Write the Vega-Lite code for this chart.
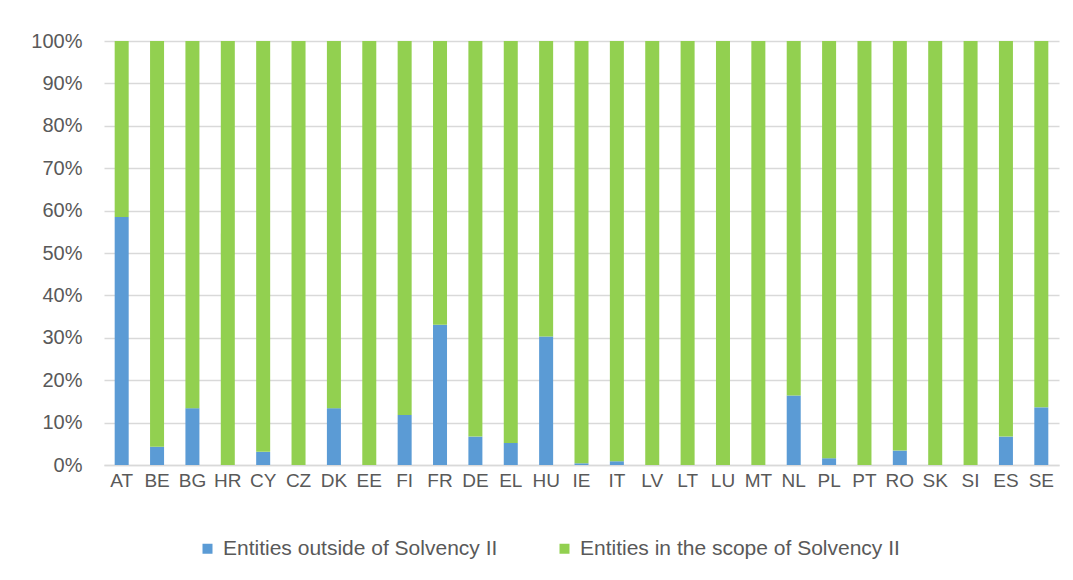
{
  "$schema": "https://vega.github.io/schema/vega-lite/v6.json",
  "width": 955,
  "height": 424,
  "autosize": {"type": "none"},
  "padding": {"left": 104, "top": 41, "right": 14, "bottom": 115},
  "background": "white",
  "config": {"view": {"stroke": null}, "font": "Liberation Sans"},
  "data": {
    "values": [
      {"country": "AT", "series": "Entities outside of Solvency II", "value": 58.5},
      {"country": "AT", "series": "Entities in the scope of Solvency II", "value": 41.5},
      {"country": "BE", "series": "Entities outside of Solvency II", "value": 4.3},
      {"country": "BE", "series": "Entities in the scope of Solvency II", "value": 95.7},
      {"country": "BG", "series": "Entities outside of Solvency II", "value": 13.4},
      {"country": "BG", "series": "Entities in the scope of Solvency II", "value": 86.6},
      {"country": "HR", "series": "Entities outside of Solvency II", "value": 0},
      {"country": "HR", "series": "Entities in the scope of Solvency II", "value": 100},
      {"country": "CY", "series": "Entities outside of Solvency II", "value": 3.1},
      {"country": "CY", "series": "Entities in the scope of Solvency II", "value": 96.9},
      {"country": "CZ", "series": "Entities outside of Solvency II", "value": 0},
      {"country": "CZ", "series": "Entities in the scope of Solvency II", "value": 100},
      {"country": "DK", "series": "Entities outside of Solvency II", "value": 13.4},
      {"country": "DK", "series": "Entities in the scope of Solvency II", "value": 86.6},
      {"country": "EE", "series": "Entities outside of Solvency II", "value": 0},
      {"country": "EE", "series": "Entities in the scope of Solvency II", "value": 100},
      {"country": "FI", "series": "Entities outside of Solvency II", "value": 11.8},
      {"country": "FI", "series": "Entities in the scope of Solvency II", "value": 88.2},
      {"country": "FR", "series": "Entities outside of Solvency II", "value": 33.1},
      {"country": "FR", "series": "Entities in the scope of Solvency II", "value": 66.9},
      {"country": "DE", "series": "Entities outside of Solvency II", "value": 6.7},
      {"country": "DE", "series": "Entities in the scope of Solvency II", "value": 93.3},
      {"country": "EL", "series": "Entities outside of Solvency II", "value": 5.2},
      {"country": "EL", "series": "Entities in the scope of Solvency II", "value": 94.8},
      {"country": "HU", "series": "Entities outside of Solvency II", "value": 30.3},
      {"country": "HU", "series": "Entities in the scope of Solvency II", "value": 69.7},
      {"country": "IE", "series": "Entities outside of Solvency II", "value": 0.4},
      {"country": "IE", "series": "Entities in the scope of Solvency II", "value": 99.6},
      {"country": "IT", "series": "Entities outside of Solvency II", "value": 0.9},
      {"country": "IT", "series": "Entities in the scope of Solvency II", "value": 99.1},
      {"country": "LV", "series": "Entities outside of Solvency II", "value": 0},
      {"country": "LV", "series": "Entities in the scope of Solvency II", "value": 100},
      {"country": "LT", "series": "Entities outside of Solvency II", "value": 0},
      {"country": "LT", "series": "Entities in the scope of Solvency II", "value": 100},
      {"country": "LU", "series": "Entities outside of Solvency II", "value": 0},
      {"country": "LU", "series": "Entities in the scope of Solvency II", "value": 100},
      {"country": "MT", "series": "Entities outside of Solvency II", "value": 0},
      {"country": "MT", "series": "Entities in the scope of Solvency II", "value": 100},
      {"country": "NL", "series": "Entities outside of Solvency II", "value": 16.4},
      {"country": "NL", "series": "Entities in the scope of Solvency II", "value": 83.6},
      {"country": "PL", "series": "Entities outside of Solvency II", "value": 1.6},
      {"country": "PL", "series": "Entities in the scope of Solvency II", "value": 98.4},
      {"country": "PT", "series": "Entities outside of Solvency II", "value": 0},
      {"country": "PT", "series": "Entities in the scope of Solvency II", "value": 100},
      {"country": "RO", "series": "Entities outside of Solvency II", "value": 3.4},
      {"country": "RO", "series": "Entities in the scope of Solvency II", "value": 96.6},
      {"country": "SK", "series": "Entities outside of Solvency II", "value": 0},
      {"country": "SK", "series": "Entities in the scope of Solvency II", "value": 100},
      {"country": "SI", "series": "Entities outside of Solvency II", "value": 0},
      {"country": "SI", "series": "Entities in the scope of Solvency II", "value": 100},
      {"country": "ES", "series": "Entities outside of Solvency II", "value": 6.7},
      {"country": "ES", "series": "Entities in the scope of Solvency II", "value": 93.3},
      {"country": "SE", "series": "Entities outside of Solvency II", "value": 13.6},
      {"country": "SE", "series": "Entities in the scope of Solvency II", "value": 86.4}
    ]
  },
  "mark": {"type": "bar"},
  "encoding": {
    "x": {
      "field": "country",
      "type": "nominal",
      "sort": null,
      "scale": {"paddingInner": 0.604, "paddingOuter": 0.302},
      "axis": {
        "title": null,
        "labelAngle": 0,
        "ticks": false,
        "domainColor": "#d9d9d9",
        "domainWidth": 1.5,
        "labelPadding": 6,
        "labelFontSize": 19,
        "labelColor": "#595959"
      }
    },
    "y": {
      "field": "value",
      "type": "quantitative",
      "stack": "normalize",
      "scale": {"domain": [0, 1]},
      "axis": {
        "title": null,
        "format": ".0%",
        "values": [0, 0.1, 0.2, 0.3, 0.4, 0.5, 0.6, 0.7, 0.8, 0.9, 1],
        "grid": true,
        "gridColor": "#d9d9d9",
        "gridWidth": 1.5,
        "domain": false,
        "ticks": false,
        "labelPadding": 22,
        "labelFontSize": 20,
        "labelColor": "#595959"
      }
    },
    "color": {
      "field": "series",
      "type": "nominal",
      "scale": {
        "domain": ["Entities outside of Solvency II", "Entities in the scope of Solvency II"],
        "range": ["#5B9BD5", "#92D050"]
      },
      "legend": {
        "title": null,
        "orient": "none",
        "legendX": 93,
        "legendY": 497,
        "direction": "horizontal",
        "symbolType": "square",
        "symbolSize": 100,
        "symbolStrokeWidth": 0,
        "labelFontSize": 21,
        "labelLimit": 0,
        "labelColor": "#595959",
        "labelOffset": 5,
        "columnPadding": 56
      }
    },
    "order": {"field": "series", "sort": "descending"}
  }
}
